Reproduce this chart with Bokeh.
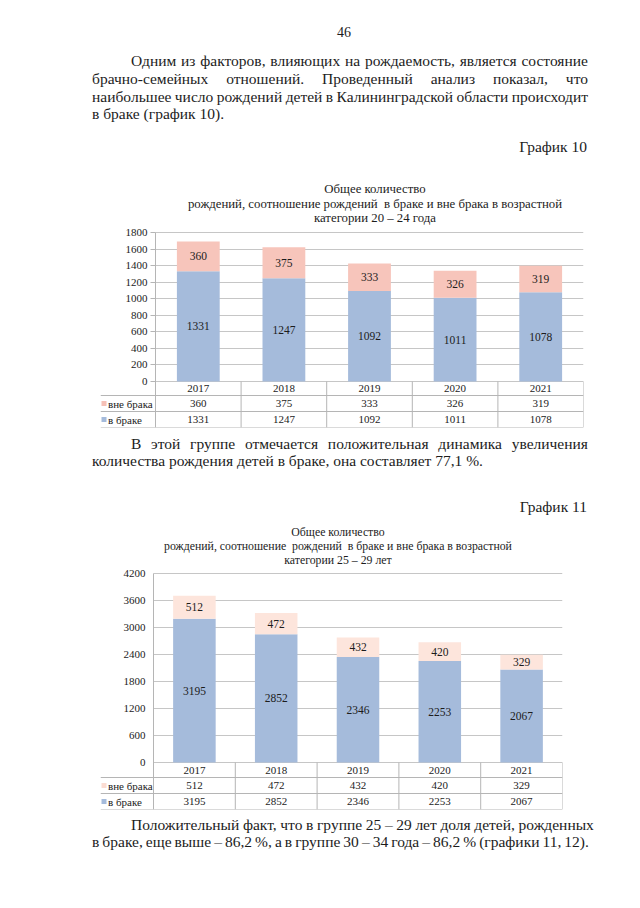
from bokeh.plotting import figure
from bokeh.models import Range1d, LinearAxis, FixedTicker, Div, ColumnDataSource, Grid
from bokeh.layouts import column
from bokeh.embed import file_html
from bokeh.resources import INLINE
from bokeh.core.properties import value

# ---------------- data ----------------
years = ["2017", "2018", "2019", "2020", "2021"]
row_labels = ["вне брака", "в браке"]

out_20_24 = [360, 375, 333, 326, 319]
in_20_24 = [1331, 1247, 1092, 1011, 1078]
ticks_20_24 = [0, 200, 400, 600, 800, 1000, 1200, 1400, 1600, 1800]

out_25_29 = [512, 472, 432, 420, 329]
in_25_29 = [3195, 2852, 2346, 2253, 2067]
ticks_25_29 = [0, 600, 1200, 1800, 2400, 3000, 3600, 4200]

page_number = "46"
para1 = ["Одним из факторов, влияющих на рождаемость, является состояние",
         "брачно-семейных отношений. Проведенный анализ показал, что",
         "наибольшее число рождений детей в Калининградской области происходит",
         "в браке (график 10)."]
caption1 = "График 10"
title1 = ["Общее количество",
          "рождений, соотношение рождений  в браке и вне брака в возрастной",
          "категории 20 – 24 года"]
para2 = ["В этой группе отмечается положительная динамика увеличения",
         "количества рождения детей в браке, она составляет 77,1 %."]
caption2 = "График 11"
title2 = ["Общее количество",
          "рождений, соотношение  рождений  в браке и вне брака в возрастной",
          "категории 25 – 29 лет"]
para3 = ["Положительный факт, что в группе 25 – 29 лет доля детей, рожденных",
         "в браке, еще выше – 86,2 %, а в группе 30 – 34 года – 86,2 % (графики 11, 12)."]

# ---------------- style ----------------
SERIF = "'Liberation Serif', 'Times New Roman', serif"
TXT = "#1c1c1c"
BLUE = "#a5bbdb"
PINK1 = "#f7c5bb"
PINK2 = "#fde5dc"
GRIDC = "#c6c6c6"
LINEC = "#b5b5b5"
PAGE_W = 624
OFF = 0  # page origin offset observed


def esc(s):
    return s.replace("&", "&amp;").replace("<", "&lt;").replace(">", "&gt;")


def top_for(cy, size, lh):
    base = (lh - 1.107 * size) / 2 + 0.891 * size
    return cy - (base - 0.28 * size)


def line_html(text, cy, size, lh, div_top, left=None, right=None, mode="left", cx=None):
    t = top_for(cy, size, lh) - div_top
    font = (f"font-family:{SERIF};font-size:{size}px;line-height:{lh}px;color:{TXT};"
            f"white-space:nowrap;")
    if mode == "justify":
        words = "".join(f"<span>{esc(w)}</span>" for w in text.split())
        return (f"<div style=\"position:absolute;left:{left - OFF}px;top:{t}px;width:{right - left}px;"
                f"display:flex;justify-content:space-between;{font}\">{words}</div>")
    if mode == "left":
        return f"<div style=\"position:absolute;left:{left - OFF}px;top:{t}px;{font}\">{esc(text)}</div>"
    if mode == "right":
        return (f"<div style=\"position:absolute;left:{right - 400 - OFF}px;top:{t}px;width:400px;"
                f"text-align:right;{font}\">{esc(text)}</div>")
    return (f"<div style=\"position:absolute;left:{cx - 300 - OFF}px;top:{t}px;width:600px;"
            f"text-align:center;{font}\">{esc(text).replace('  ', '&nbsp; ')}</div>")


def paragraph(lines, ys, div_top, last_justified=False, size=15.5, lh=18, right=588, right_first=None):
    out = []
    for k, (txt, y) in enumerate(zip(lines, ys)):
        left = 131 if k == 0 else 92
        r = right_first if (k == 0 and right_first) else right
        last = k == len(lines) - 1
        mode = "justify" if (not last or last_justified) else "left"
        out.append(line_html(txt, y, size, lh, div_top, left=left, right=r, mode=mode))
    return out


def make_div(parts, top, bottom):
    html = (f"<div style=\"position:relative;width:{PAGE_W}px;height:{bottom - top}px;"
            f"overflow:visible\">" + "".join(parts) + "</div>")
    return Div(text=html, width=PAGE_W, height=bottom - top, margin=(0, 0, 0, 0))


LEFT = 100  # page x of table label column (frame left)
EXT = 8     # extra frame room above the top tick so its label is not clipped


def chart(outs, ins, ticks, pink, key_pink, bar_w, plot_left, plot_right, top_px, zero_px, rows,
          tick_out, standoff, prev_bottom, border_bottom, fs_tick, fs_bar, fs_tab):
    n = len(years)
    w = (plot_right - plot_left) / n
    xs = [i + 0.5 for i in range(n)]
    x0 = -(plot_left - LEFT) / w
    u = ticks[-1] / (zero_px - top_px)
    ybot = -rows[-1] * u
    ytop = ticks[-1] + EXT * u
    fw = plot_right - LEFT
    fh = zero_px - top_px + rows[-1] + EXT
    p = figure(frame_width=fw, frame_height=fh,
               x_range=Range1d(x0, n), y_range=Range1d(ybot, ytop),
               x_axis_location=None, y_axis_location=None,
               toolbar_location=None, output_backend="svg",
               min_border_left=LEFT - OFF, min_border_right=PAGE_W - (LEFT - OFF) - fw,
               min_border_top=(top_px - EXT) - prev_bottom, min_border_bottom=border_bottom)
    p.outline_line_color = None
    p.background_fill_color = None
    p.border_fill_color = None
    p.xgrid.visible = False
    p.ygrid.visible = False

    g = Grid(dimension=1, ticker=FixedTicker(ticks=ticks), grid_line_color=GRIDC, grid_line_width=1)
    ok = True
    try:
        g.cross_bounds = (0, n)
    except Exception:
        ok = False
    if ok:
        p.add_layout(g)
    else:
        p.segment(x0=[0] * len(ticks), y0=ticks, x1=[n] * len(ticks), y1=ticks,
                  line_color=GRIDC, line_width=1)

    tot = [a + b for a, b in zip(ins, outs)]
    src = ColumnDataSource(dict(
        x=xs, ins=ins, outs=outs, tot=tot,
        in_mid=[v / 2 for v in ins],
        out_mid=[a + b / 2 for a, b in zip(ins, outs)],
        in_txt=[str(v) for v in ins], out_txt=[str(v) for v in outs],
        years=years,
    ))
    p.vbar(x="x", bottom=0, top="ins", width=bar_w, source=src, fill_color=BLUE, line_color=None)
    p.vbar(x="x", bottom="ins", top="tot", width=bar_w, source=src, fill_color=pink, line_color=None)
    common = dict(text_font=value(SERIF), text_color=TXT, text_align="center", text_baseline="middle")
    p.text(x="x", y="in_mid", text="in_txt", source=src, text_font_size=f"{fs_bar}px", **common)
    p.text(x="x", y="out_mid", text="out_txt", source=src, text_font_size=f"{fs_bar}px", **common)

    cy = [-(rows[k] + rows[k + 1]) / 2 * u for k in range(3)]
    p.text(x="x", y=value(cy[0]), text="years", source=src, text_font_size=f"{fs_tab}px", **common)
    p.text(x="x", y=value(cy[1]), text="out_txt", source=src, text_font_size=f"{fs_tab}px", **common)
    p.text(x="x", y=value(cy[2]), text="in_txt", source=src, text_font_size=f"{fs_tab}px", **common)
    p.text(x=[x0 + 7.5 / w] * 2, y=[cy[1], cy[2]], text=row_labels,
           text_font=value(SERIF), text_color=TXT, text_align="left", text_baseline="middle",
           text_font_size=f"{fs_tab}px")
    p.scatter(x=[x0 + 3.5 / w] * 2, y=[cy[1], cy[2]], marker="square", size=5,
              fill_color=[key_pink, BLUE], line_color=None)

    hy = [-rows[k] * u for k in range(1, 4)]
    p.segment(x0=[x0] * 3, y0=hy, x1=[n] * 3, y1=hy, line_color=LINEC, line_width=1)
    vx = list(range(1, n + 1))
    p.segment(x0=vx, y0=[0] * n, x1=vx, y1=[ybot] * n, line_color=LINEC, line_width=1)

    ax = LinearAxis(fixed_location=0, ticker=FixedTicker(ticks=ticks), bounds=(ybot, ticks[-1]))
    ax.axis_line_color = LINEC
    ax.major_tick_line_color = LINEC
    ax.major_tick_in = 0
    ax.major_tick_out = tick_out
    ax.minor_tick_line_color = None
    ax.major_label_standoff = standoff
    ax.major_label_text_font = SERIF
    ax.major_label_text_font_size = f"{fs_tick}px"
    ax.major_label_text_color = TXT
    p.add_layout(ax, "left")
    return p


# ---------------- page ----------------
A_TOP, A_BOT = 0, 224
partsA = [line_html(page_number, 34, 14, 16, A_TOP, mode="center", cx=344)]
partsA += paragraph(para1, [62, 80, 97.5, 115], A_TOP)
partsA.append(line_html(caption1, 148, 15.5, 18, A_TOP, right=587, mode="right"))
for txt, y in zip(title1, [190, 205.5, 219.5]):
    partsA.append(line_html(txt, y, 12.8, 15, A_TOP, mode="center", cx=375))
divA = make_div(partsA, A_TOP, A_BOT)

fig1 = chart(out_20_24, in_20_24, ticks_20_24, PINK1, "#f6c0b6", 0.5, 155, 583, 232, 381,
             [0, 14, 30, 46], 5, 3, A_BOT, 3, 11, 11.5, 11)
F1_BOT = 427 + 3

B_TOP, B_BOT = F1_BOT, 565
partsB = paragraph(para2, [445, 462], B_TOP)
partsB.append(line_html(caption2, 508, 15.5, 18, B_TOP, right=587, mode="right"))
for txt, y in zip(title2, [533, 547, 561]):
    partsB.append(line_html(txt, y, 11.8, 14, B_TOP, mode="center", cx=338))
divB = make_div(partsB, B_TOP, B_BOT)

fig2 = chart(out_25_29, in_25_29, ticks_25_29, PINK2, "#fbdcd2", 0.52, 153, 562, 573, 762,
             [0, 15, 31, 47], 0, 8, B_BOT, 2, 11, 11.5, 11)
F2_BOT = 809 + 2

C_TOP, C_BOT = F2_BOT, 900
partsC = paragraph(para3, [826, 843], C_TOP, last_justified=True, right=589, right_first=594)
divC = make_div(partsC, C_TOP, C_BOT)

page = column(divA, fig1, divB, fig2, divC, spacing=0)

open("out.html", "w").write(file_html(page, INLINE))
